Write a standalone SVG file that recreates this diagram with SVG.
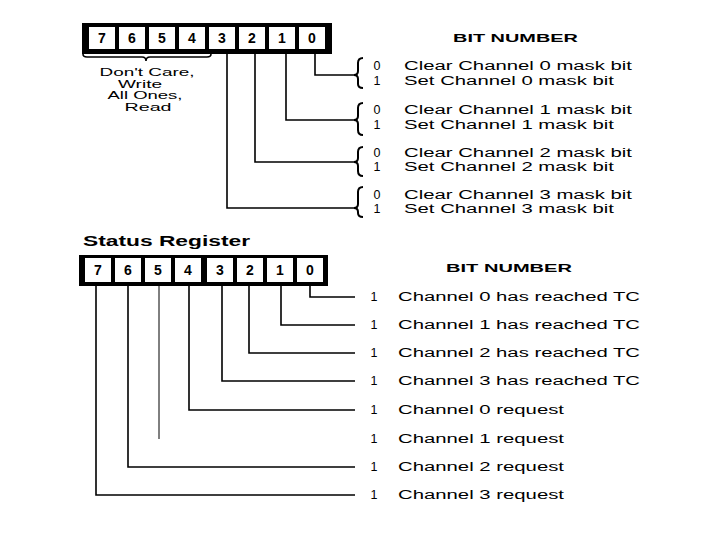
<svg xmlns="http://www.w3.org/2000/svg" width="720" height="540" viewBox="0 0 720 540">
<style>
.frame{fill:#000}
.cell{fill:#fff}
.dig{font-family:"Liberation Sans",Arial,sans-serif;font-weight:bold;font-size:14px;text-anchor:middle;fill:#000}
.t{font-family:"Liberation Sans",Arial,sans-serif;font-size:12px;fill:#000}
.n{font-family:"Liberation Sans",Arial,sans-serif;font-size:12.5px;fill:#000;text-anchor:middle}
.h{font-family:"Liberation Sans",Arial,sans-serif;font-weight:bold;font-size:11px;fill:#000}
.c{font-family:"Liberation Sans",Arial,sans-serif;font-size:11px;fill:#000;text-anchor:middle}
.ln{fill:none;stroke:#000;stroke-width:1.6}
.br{fill:none;stroke:#000;stroke-width:2}
</style>
<rect width="720" height="540" fill="#fff"/>

<g id="mask-register">
<rect class="frame" x="82" y="23" width="250" height="31"/>
<rect class="cell" x="89" y="27" width="26" height="22"/>
<rect class="cell" x="119" y="27" width="26" height="22"/>
<rect class="cell" x="149" y="27" width="26" height="22"/>
<rect class="cell" x="179" y="27" width="26" height="22"/>
<rect class="cell" x="209" y="27" width="26" height="22"/>
<rect class="cell" x="239" y="27" width="26" height="22"/>
<rect class="cell" x="269" y="27" width="26" height="22"/>
<rect class="cell" x="299" y="27" width="26" height="22"/>
<text class="dig" x="102" y="43">7</text>
<text class="dig" x="132" y="43">6</text>
<text class="dig" x="162" y="43">5</text>
<text class="dig" x="192" y="43">4</text>
<text class="dig" x="222" y="43">3</text>
<text class="dig" x="252" y="43">2</text>
<text class="dig" x="282" y="43">1</text>
<text class="dig" x="312" y="43">0</text>
</g>

<g id="dont-care">
<path class="ln" d="M83,54 Q83,57 87,57 L142,57 Q146,57 146,61 Q146,57 150,57 L207,57 Q211,57 211,54"/>
<text class="c" x="147" y="76" textLength="95" lengthAdjust="spacingAndGlyphs">Don't Care,</text>
<text class="c" x="140" y="87.5" textLength="44" lengthAdjust="spacingAndGlyphs">Write</text>
<text class="c" x="145" y="99" textLength="75" lengthAdjust="spacingAndGlyphs">All Ones,</text>
<text class="c" x="148" y="110.5" textLength="47" lengthAdjust="spacingAndGlyphs">Read</text>
</g>

<g id="mask-title">
<text class="h" x="453" y="42" textLength="125" lengthAdjust="spacingAndGlyphs">BIT NUMBER</text>
</g>

<g id="mask-ch0">
<path class="br" d="M363,58 Q358,58 358,63 L358,71 Q358,75 354,75 Q358,75 358,79 L358,84 Q358,88 363,88"/>
<text class="n" x="377" y="70">0</text>
<text class="n" x="377" y="85">1</text>
<text class="t" x="404" y="70" textLength="228" lengthAdjust="spacingAndGlyphs">Clear Channel 0 mask bit</text>
<text class="t" x="404" y="85" textLength="210" lengthAdjust="spacingAndGlyphs">Set Channel 0 mask bit</text>
</g>
<g id="mask-ch1">
<path class="br" d="M363,103 Q358,103 358,108 L358,116 Q358,120 354,120 Q358,120 358,124 L358,130 Q358,135 363,135"/>
<text class="n" x="377" y="114">0</text>
<text class="n" x="377" y="129">1</text>
<text class="t" x="404" y="114" textLength="228" lengthAdjust="spacingAndGlyphs">Clear Channel 1 mask bit</text>
<text class="t" x="404" y="129" textLength="210" lengthAdjust="spacingAndGlyphs">Set Channel 1 mask bit</text>
</g>
<g id="mask-ch2">
<path class="br" d="M363,147 Q358,147 358,152 L358,158 Q358,162 354,162 Q358,162 358,166 L358,171 Q358,176 363,176"/>
<text class="n" x="377" y="157">0</text>
<text class="n" x="377" y="171">1</text>
<text class="t" x="404" y="157" textLength="228" lengthAdjust="spacingAndGlyphs">Clear Channel 2 mask bit</text>
<text class="t" x="404" y="171" textLength="210" lengthAdjust="spacingAndGlyphs">Set Channel 2 mask bit</text>
</g>
<g id="mask-ch3">
<path class="br" d="M363,187 Q358,187 358,192 L358,204 Q358,208 354,208 Q358,208 358,212 L358,213 Q358,217 363,217"/>
<text class="n" x="377" y="199">0</text>
<text class="n" x="377" y="213">1</text>
<text class="t" x="404" y="199" textLength="228" lengthAdjust="spacingAndGlyphs">Clear Channel 3 mask bit</text>
<text class="t" x="404" y="213" textLength="210" lengthAdjust="spacingAndGlyphs">Set Channel 3 mask bit</text>
</g>

<g id="status-register">
<text class="h" x="83" y="246" style="font-size:14px" textLength="167" lengthAdjust="spacingAndGlyphs">Status Register</text>
<rect class="frame" x="79" y="255" width="249" height="31"/>
<rect class="cell" x="85" y="258" width="26" height="24"/>
<rect class="cell" x="115" y="258" width="26" height="24"/>
<rect class="cell" x="145" y="258" width="26" height="24"/>
<rect class="cell" x="175" y="258" width="26" height="24"/>
<rect class="cell" x="207" y="258" width="26" height="24"/>
<rect class="cell" x="237" y="258" width="26" height="24"/>
<rect class="cell" x="267" y="258" width="26" height="24"/>
<rect class="cell" x="297" y="258" width="26" height="24"/>
<text class="dig" x="98" y="275">7</text>
<text class="dig" x="128" y="275">6</text>
<text class="dig" x="158" y="275">5</text>
<text class="dig" x="188" y="275">4</text>
<text class="dig" x="220" y="275">3</text>
<text class="dig" x="250" y="275">2</text>
<text class="dig" x="280" y="275">1</text>
<text class="dig" x="310" y="275">0</text>
</g>

<g id="status-title">
<text class="h" x="446" y="272" textLength="126" lengthAdjust="spacingAndGlyphs">BIT NUMBER</text>
</g>

<g id="status-items">
<text class="n" x="374" y="301">1</text>
<text class="t" x="398" y="301" textLength="242" lengthAdjust="spacingAndGlyphs">Channel 0 has reached TC</text>
<text class="n" x="374" y="329">1</text>
<text class="t" x="398" y="329" textLength="242" lengthAdjust="spacingAndGlyphs">Channel 1 has reached TC</text>
<text class="n" x="374" y="357">1</text>
<text class="t" x="398" y="357" textLength="242" lengthAdjust="spacingAndGlyphs">Channel 2 has reached TC</text>
<text class="n" x="374" y="385">1</text>
<text class="t" x="398" y="385" textLength="242" lengthAdjust="spacingAndGlyphs">Channel 3 has reached TC</text>
<text class="n" x="374" y="414">1</text>
<text class="t" x="398" y="414" textLength="166" lengthAdjust="spacingAndGlyphs">Channel 0 request</text>
<text class="n" x="374" y="443">1</text>
<text class="t" x="398" y="443" textLength="166" lengthAdjust="spacingAndGlyphs">Channel 1 request</text>
<text class="n" x="374" y="471">1</text>
<text class="t" x="398" y="471" textLength="166" lengthAdjust="spacingAndGlyphs">Channel 2 request</text>
<text class="n" x="374" y="499">1</text>
<text class="t" x="398" y="499" textLength="166" lengthAdjust="spacingAndGlyphs">Channel 3 request</text>
</g>

<g id="connectors">
<polyline class="ln" points="315,54 315,75 354,75"/>
<polyline class="ln" points="286,54 286,120 354,120"/>
<polyline class="ln" points="255,54 255,162 354,162"/>
<polyline class="ln" points="227,54 227,208 354,208"/>
<polyline class="ln" points="310,286 310,297 355,297"/>
<polyline class="ln" points="281,286 281,325 355,325"/>
<polyline class="ln" points="249,286 249,353 355,353"/>
<polyline class="ln" points="222,286 222,381 355,381"/>
<polyline class="ln" points="189,286 189,410 355,410"/>
<polyline class="ln" points="159,286 159,439" style="stroke-width:1"/>
<polyline class="ln" points="128,286 128,467 355,467"/>
<polyline class="ln" points="96,286 96,495 355,495"/>
</g>
</svg>
